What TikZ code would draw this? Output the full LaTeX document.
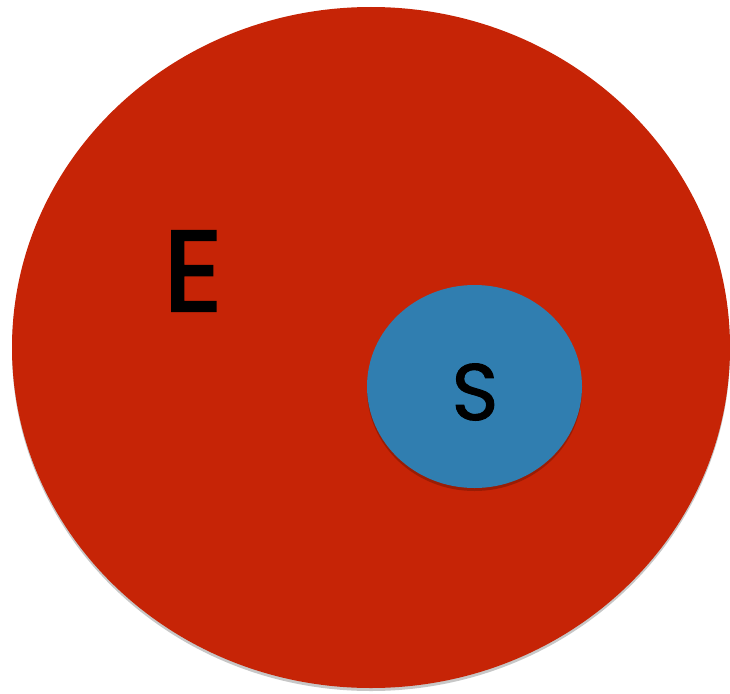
\documentclass[tikz,border=0pt]{standalone}
\usepackage{fontspec}
\setmainfont{Poppins}
\newfontfamily\efont[FakeBold=2.5]{Poppins}
\newfontfamily\sfontx[FakeBold=1.2]{Poppins}
\usetikzlibrary{shadows}
\definecolor{bigred}{RGB}{198,36,6}
\definecolor{smallblue}{RGB}{48,126,176}
\tikzset{
  setshape/.style={draw=none, drop shadow={shadow xshift=0pt, shadow yshift=-3pt, opacity=0.22, fill=black}},
  setlabel/.style={text=black, inner sep=0pt}
}
\begin{document}
\begin{tikzpicture}[x=1pt,y=-1pt]
\useasboundingbox (0,0) rectangle (730,693);
\fill[white] (0,0) rectangle (730,693);
\path[setshape, fill=bigred] (371,347.5) ellipse [x radius=359, y radius=340.5];
\node[setlabel, font=\efont\fontsize{114}{114}\selectfont] (E) at (193,271) {E};
\path[setshape, fill=smallblue] (474.5,386.5) ellipse [x radius=107.5, y radius=101.5];
\node[setlabel, font=\sfontx\fontsize{80}{80}\selectfont] (S) at (475,392) {S};
\end{tikzpicture}
\end{document}
